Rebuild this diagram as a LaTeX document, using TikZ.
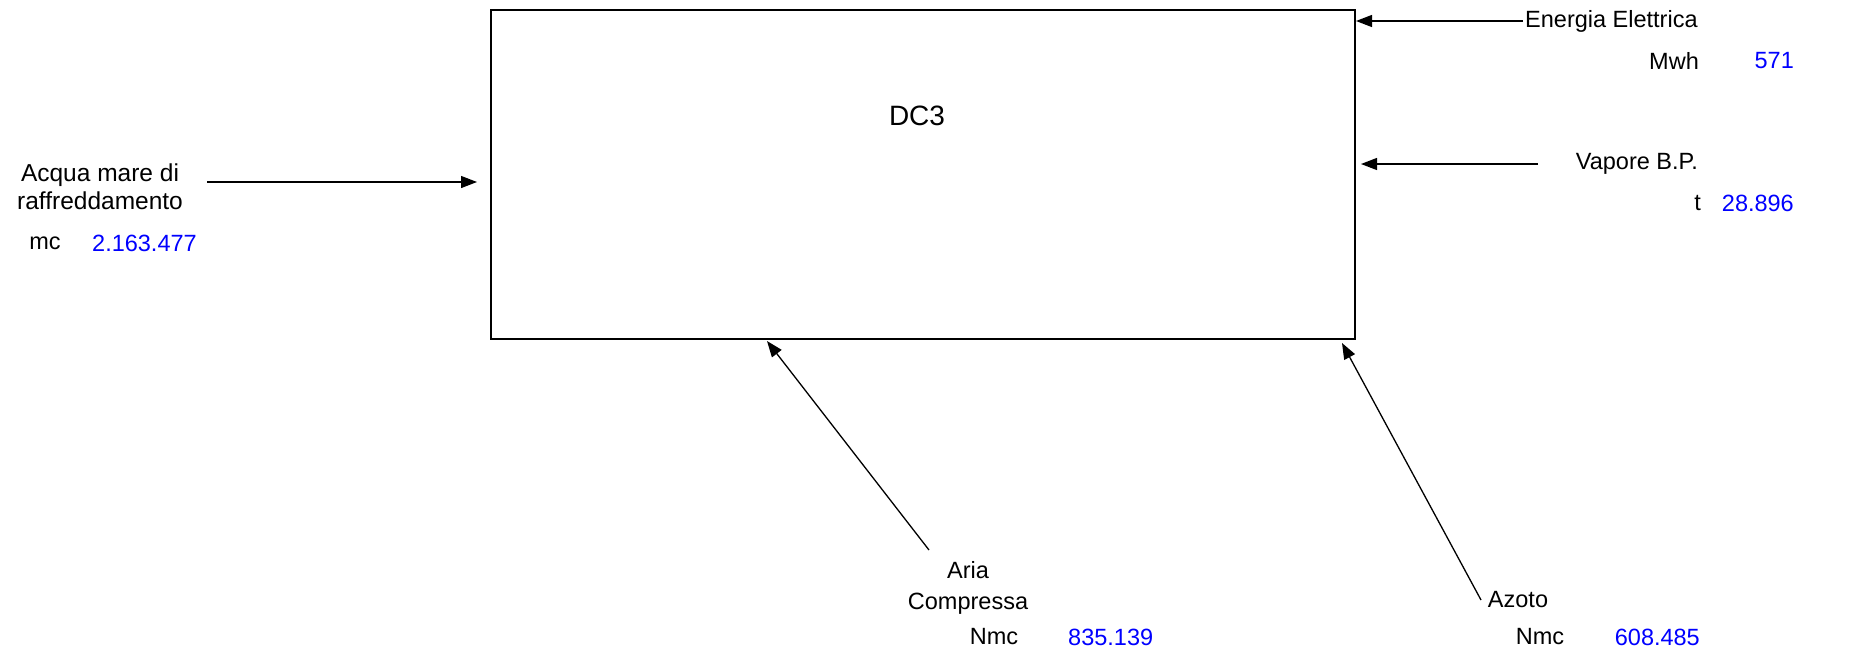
\documentclass[tikz,border=0pt]{standalone}
\usepackage{fontspec}
\setmainfont{Liberation Sans}
\usetikzlibrary{arrows.meta}
\begin{document}
\begin{tikzpicture}[x=1pt,y=-1pt,
  lbl/.style={inner sep=0pt,font=\fontsize{23.5}{27}\selectfont},
  val/.style={lbl,text=blue},
  flow/.style={line width=1.3pt,-{Triangle[length=16pt,width=12pt]}},
  mainbox/.style={draw,line width=1.3pt}]
\useasboundingbox (0,0) rectangle (1851,656);
\fill[white] (0,0) rectangle (1851,656);
% main box
\draw[mainbox] (491,10) rectangle (1355,339);
\node[lbl,font=\fontsize{28}{32}\selectfont] (dc3) at (917,116) {DC3};
% left input
\node[lbl,align=center,font=\fontsize{24.5}{28}\selectfont] (acqua) at (100,187) {Acqua mare di\\[0pt]raffreddamento};
\node[lbl] (mc) at (45,243) {mc};
\node[val,anchor=west] (acquav) at (92,243) {2.163.477};
\coordinate (acquaS) at (207,182);
\coordinate (acquaT) at (477,182);
\draw[flow] (acquaS) -- (acquaT);
% energia
\node[lbl,anchor=west] (energia) at (1525,21) {Energia Elettrica};
\node[lbl,anchor=east] (mwh) at (1699,61) {Mwh};
\node[val,anchor=east] (energiav) at (1794,61) {571};
\coordinate (energiaS) at (1523,21);
\coordinate (energiaT) at (1356,21);
\draw[flow] (energiaS) -- (energiaT);
% vapore
\node[lbl,anchor=east] (vapore) at (1698,164) {Vapore B.P.};
\node[lbl,anchor=east] (tu) at (1701,203) {t};
\node[val,anchor=east] (vaporev) at (1794,203) {28.896};
\coordinate (vaporeS) at (1538,164);
\coordinate (vaporeT) at (1361,164);
\draw[flow] (vaporeS) -- (vaporeT);
% aria
\node[lbl,align=center] (aria) at (968,588) {Aria\\[4pt]Compressa};
\node[lbl] (nmc1) at (994,637) {Nmc};
\node[val,anchor=west] (ariav) at (1068,637) {835.139};
\coordinate (ariaS) at (929,550);
\coordinate (ariaT) at (767,341);
\draw[flow] (ariaS) -- (ariaT);
% azoto
\node[lbl] (azoto) at (1518,600) {Azoto};
\node[lbl] (nmc2) at (1540,637) {Nmc};
\node[val,anchor=east] (azotov) at (1700,637) {608.485};
\coordinate (azotoS) at (1481,600);
\coordinate (azotoT) at (1342,343);
\draw[flow] (azotoS) -- (azotoT);
\end{tikzpicture}
\end{document}
